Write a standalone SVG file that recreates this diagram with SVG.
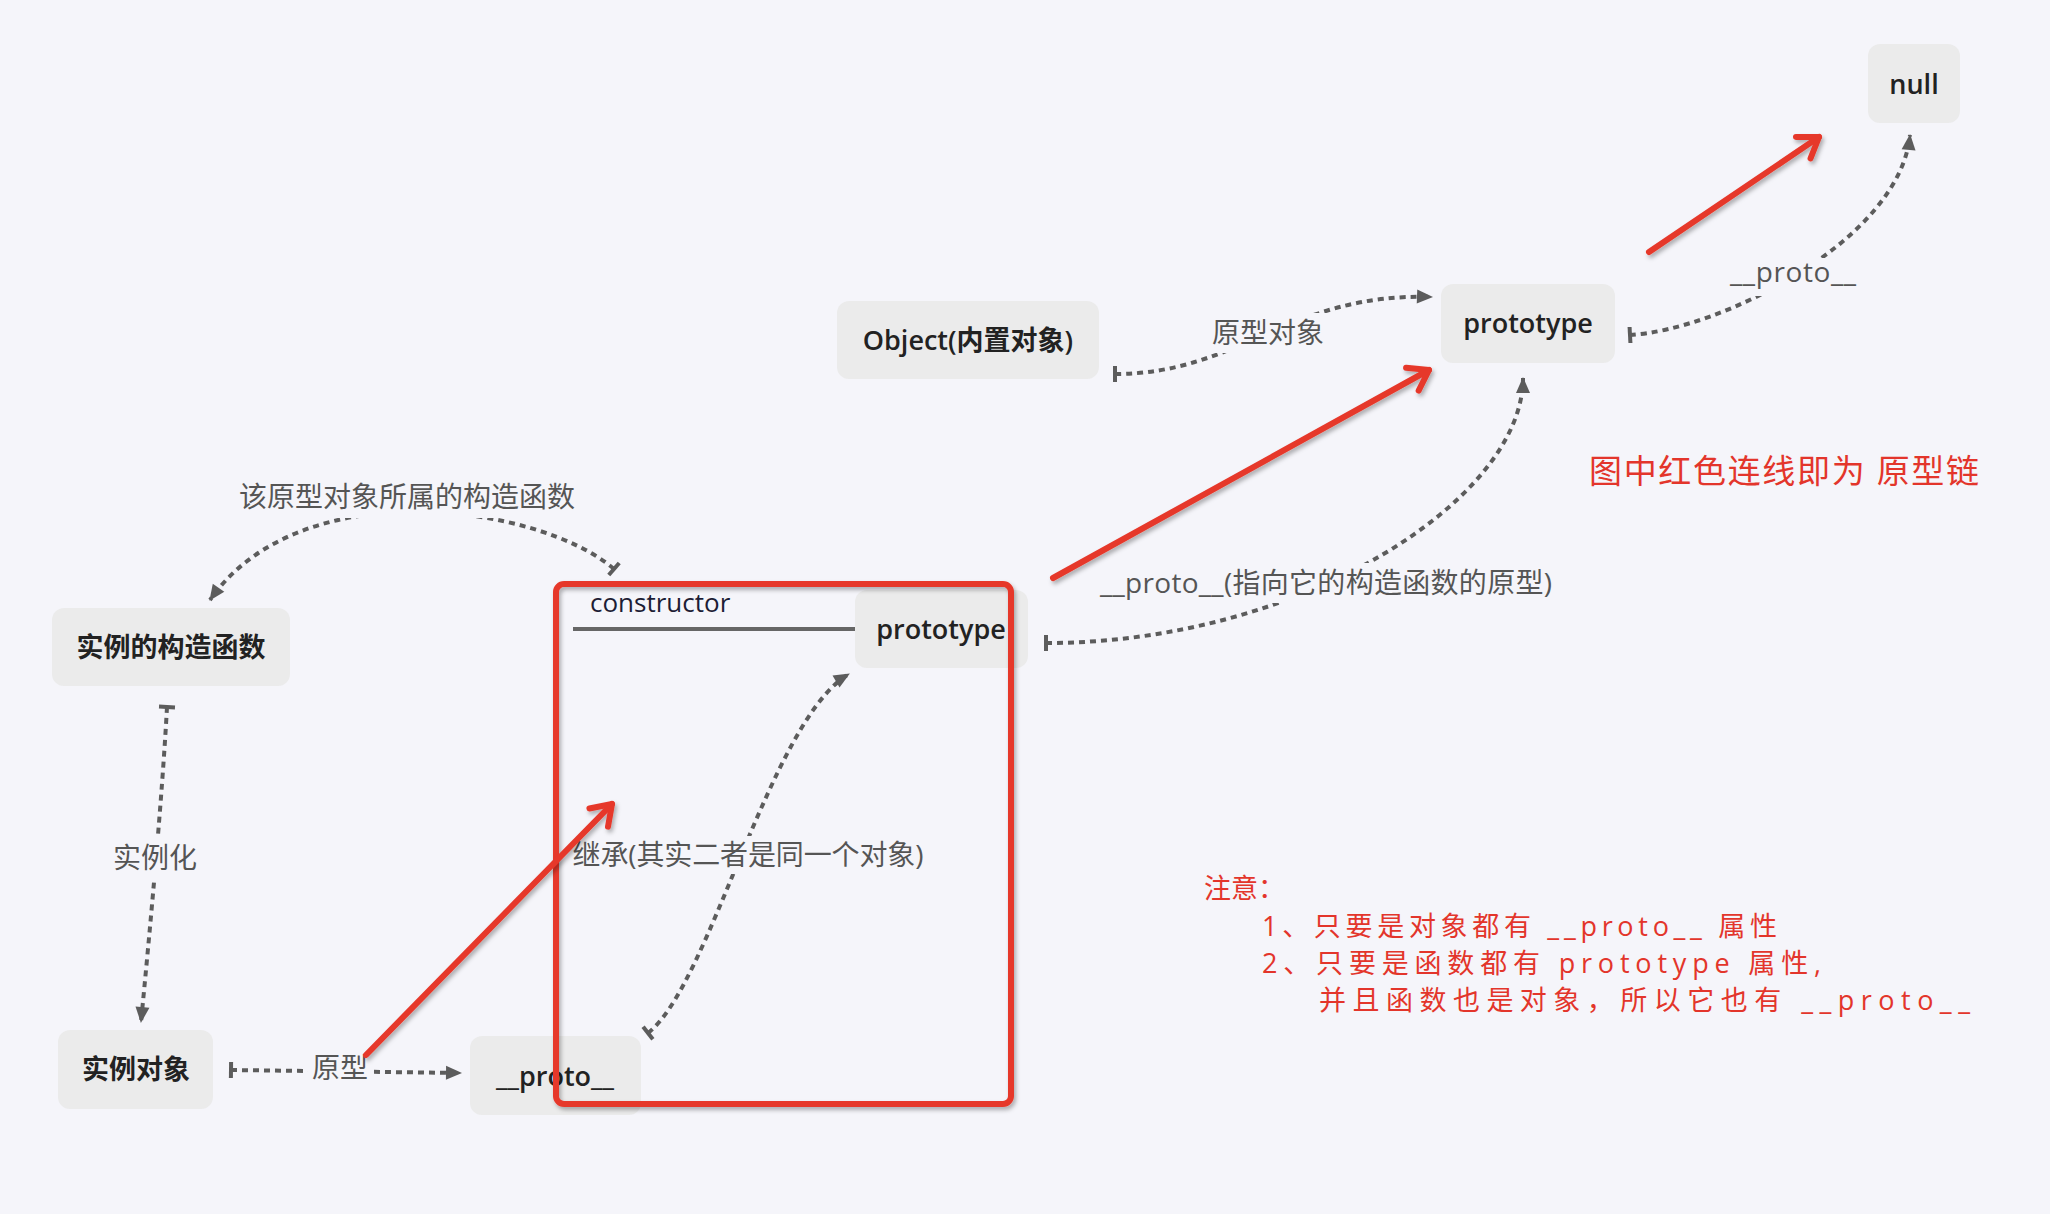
<svg xmlns="http://www.w3.org/2000/svg" width="2050" height="1214" viewBox="0 0 2050 1214">
<defs>
<style>
.node rect{fill:#ebebeb}
.nt{font-family:"Open Sans","Noto Sans CJK SC",sans-serif;font-size:27px;font-weight:600;fill:#222;text-anchor:middle}
.dot{fill:none;stroke:#5c5c5c;stroke-width:4;stroke-dasharray:6 5;marker-start:url(#bar);marker-end:url(#arr)}
.lbg{fill:#f5f5fa}
.lbl{font-family:"Open Sans","Noto Sans CJK SC",sans-serif;font-size:28px;fill:#555;text-anchor:middle}
.red{fill:none;stroke:#e6382b;stroke-width:6;stroke-linecap:round;marker-end:url(#redhead);filter:url(#sh)}
.rt{font-family:"Open Sans","Noto Sans CJK SC",sans-serif;font-size:27px;fill:#e3352b}
marker{overflow:visible}
</style>
<filter id="sh" x="-20%" y="-20%" width="140%" height="140%">
<feDropShadow dx="2" dy="3" stdDeviation="2" flood-color="#000" flood-opacity="0.3"/>
</filter>
<marker id="arr" viewBox="0 0 16 14" refX="15" refY="7" markerWidth="16" markerHeight="14" markerUnits="userSpaceOnUse" orient="auto"><path d="M0,0 L16,7 L0,14 z" fill="#5c5c5c"/></marker>
<marker id="bar" viewBox="0 0 4 16" refX="2" refY="8" markerWidth="4" markerHeight="16" markerUnits="userSpaceOnUse" orient="auto"><rect width="4" height="16" fill="#5c5c5c"/></marker>
<marker id="redhead" viewBox="0 0 30 30" refX="26" refY="15" markerWidth="30" markerHeight="30" markerUnits="userSpaceOnUse" orient="auto"><path d="M7,2 L26,15 L7,28" fill="none" stroke="#e6382b" stroke-width="6" stroke-linecap="round" stroke-linejoin="round"/></marker>
</defs>
<rect width="2050" height="1214" fill="#f5f5fa"/>

<g id="connectors">
<path class="dot" d="M614,569 C540,505 300,470 210,600"/>
<path class="dot" d="M167,707 C162,800 150,930 141,1022"/>
<path class="dot" d="M231,1070 L461,1073"/>
<path class="dot" d="M648,1033 C710,985 770,720 849,674"/>
<path class="dot" d="M1046,643 C1300,643 1523,500 1523,378"/>
<path class="dot" d="M1115,374 C1240,374 1290,292 1432,297"/>
<path class="dot" d="M1630,335 C1720,330 1900,240 1910,135"/>
<rect class="lbg" x="237" y="478" width="342" height="40"/>
<text class="lbl" x="407" y="507">该原型对象所属的构造函数</text>
<rect class="lbg" x="111" y="838" width="88" height="40"/>
<text class="lbl" x="155" y="868">实例化</text>
<rect class="lbg" x="308" y="1050" width="64" height="38"/>
<text class="lbl" x="340" y="1078">原型</text>
<rect class="lbg" x="569" y="836" width="359" height="38"/>
<text class="lbl" x="748" y="865" textLength="351" lengthAdjust="spacing">继承(其实二者是同一个对象)</text>
<rect class="lbg" x="1096" y="563" width="460" height="40"/>
<text class="lbl" x="1326" y="593" textLength="452" lengthAdjust="spacing">__proto__(指向它的构造函数的原型)</text>
<rect class="lbg" x="1208" y="313" width="120" height="40"/>
<text class="lbl" x="1268" y="343">原型对象</text>
<rect class="lbg" x="1726" y="258" width="134" height="38"/>
<text class="lbl" x="1793" y="282" textLength="126" lengthAdjust="spacing">__proto__</text>
</g>

<g id="node-null" class="node"><rect x="1868" y="44" width="92" height="79" rx="12"/><text class="nt" x="1914" y="94">null</text></g>
<g id="node-prototype-top" class="node"><rect x="1441" y="284" width="174" height="79" rx="12"/><text class="nt" x="1528" y="333">prototype</text></g>
<g id="node-object" class="node"><rect x="837" y="301" width="262" height="78" rx="12"/><text class="nt" x="968" y="350">Object(内置对象)</text></g>
<g id="node-constructor-fn" class="node"><rect x="52" y="608" width="238" height="78" rx="12"/><text class="nt" x="171" y="657">实例的构造函数</text></g>
<g id="node-prototype-mid" class="node"><rect x="855" y="590" width="173" height="78" rx="12"/><text class="nt" x="941" y="639">prototype</text></g>
<g id="node-instance" class="node"><rect x="58" y="1030" width="155" height="79" rx="12"/><text class="nt" x="136" y="1079">实例对象</text></g>
<g id="node-proto-low" class="node"><rect x="470" y="1036" width="171" height="79" rx="12"/><text class="nt" x="555" y="1086">__proto__</text></g>
<g id="node-constructor">
<text x="590" y="612" style="font-family:'Open Sans','Noto Sans CJK SC',sans-serif;font-size:26px;fill:#1d1d35">constructor</text>
<line x1="573" y1="629" x2="855" y2="629" stroke="#666" stroke-width="4"/>
</g>

<g id="red-box">
<rect x="556" y="584" width="455" height="520" rx="8" fill="none" stroke="#e6382b" stroke-width="6" filter="url(#sh)"/>
</g>

<g id="red-arrows">
<path class="red" d="M366,1055 L612,804"/>
<path class="red" d="M1053,578 L1429,370"/>
<path class="red" d="M1649,252 L1819,137"/>
</g>

<g id="notes">
<text class="rt" x="1589" y="483" style="font-size:33px" textLength="390" lengthAdjust="spacing">图中红色连线即为 原型链</text>
<text class="rt" x="1204" y="898">注意：</text>
<text class="rt" x="1262" y="936" textLength="515" lengthAdjust="spacing">1、只要是对象都有 __proto__ 属性</text>
<text class="rt" x="1262" y="973" textLength="559" lengthAdjust="spacing">2、只要是函数都有 prototype 属性,</text>
<text class="rt" x="1319" y="1010" textLength="651" lengthAdjust="spacing">并且函数也是对象，所以它也有 __proto__</text>
</g>
</svg>
